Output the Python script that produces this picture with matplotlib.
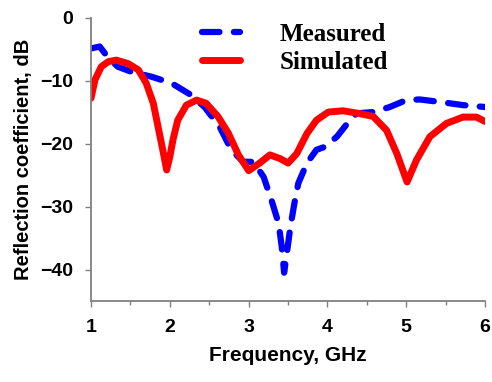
import numpy as np
import matplotlib.pyplot as plt
from matplotlib.ticker import MultipleLocator

# Measured curve (blue dashed)
f_meas = [1.0, 1.11, 1.22, 1.34, 1.51, 1.77, 2.02, 2.27, 2.44, 2.63, 2.78, 2.93, 3.06,
          3.19, 3.29, 3.38, 3.42, 3.45, 3.49, 3.53, 3.58, 3.63, 3.74, 3.86, 3.97, 4.12,
          4.24, 4.37, 4.58, 4.79, 5.0, 5.17, 5.43, 5.72, 6.0]
s_meas = [-4.9, -4.6, -6.4, -7.8, -8.6, -9.4, -10.4, -12.3, -14.2, -17.3, -21.0, -22.9, -22.9,
          -25.3, -29.0, -32.7, -36.4, -40.5, -36.9, -33.2, -29.5, -26.3, -23.1, -21.0, -20.5, -18.9,
          -17.0, -15.2, -15.0, -14.2, -13.1, -13.0, -13.4, -13.9, -14.2]

# Simulated curve (red solid)
f_sim = [1.0, 1.05, 1.13, 1.22, 1.32, 1.47, 1.6, 1.7, 1.79, 1.85, 1.91, 1.96, 2.0, 2.04,
         2.1, 2.21, 2.34, 2.46, 2.61, 2.74, 2.87, 3.0, 3.14, 3.27, 3.4, 3.5, 3.61, 3.74,
         3.86, 4.01, 4.2, 4.39, 4.58, 4.75, 4.88, 5.01, 5.13, 5.3, 5.51, 5.72, 5.89, 6.0]
s_sim = [-12.8, -9.9, -7.8, -7.0, -6.75, -7.3, -8.3, -10.4, -13.6, -17.3, -21.0, -24.2, -22.1, -19.4,
         -16.3, -13.9, -13.1, -13.6, -15.7, -18.3, -21.8, -24.3, -23.1, -21.8, -22.4, -23.1, -21.6, -18.4,
         -16.3, -15.0, -14.8, -15.2, -15.7, -17.9, -21.6, -26.1, -22.6, -18.9, -16.8, -15.8, -15.8, -16.5]

fig = plt.figure(figsize=(4.92, 3.82), dpi=100)
ax = fig.add_axes([0.185, 0.212, 0.801, 0.742])

ax.plot(f_meas, s_meas, color='#0000ff', lw=4.5, ls=(0, (2.8, 2.3)),
        dash_capstyle='round', dash_joinstyle='round', label='Measured')
ax.plot(f_sim, s_sim, color='#ff0000', lw=5, solid_capstyle='round',
        solid_joinstyle='round', label='Simulated')

ax.set_xlim(1, 6)
ax.set_ylim(-45, 0)
ax.xaxis.set_major_locator(MultipleLocator(1))
ax.xaxis.set_minor_locator(MultipleLocator(0.5))
ax.yaxis.set_major_locator(MultipleLocator(10))

for s in ['top', 'right']:
    ax.spines[s].set_visible(False)
for s in ['left', 'bottom']:
    ax.spines[s].set_color('#808080')
    ax.spines[s].set_linewidth(1.3)

ax.tick_params(which='major', length=4, width=1, color='#808080', labelsize=14, pad=9)
ax.tick_params(which='minor', length=3, width=1, color='#808080')
for lab in ax.get_xticklabels() + ax.get_yticklabels():
    lab.set_fontweight('bold')
    lab.set_family('Liberation Sans')

ax.set_xlabel('Frequency, GHz', fontsize=15, fontweight='bold', family='Liberation Sans', labelpad=7)
ax.set_ylabel('Reflection coefficient, dB', fontsize=14.5, fontweight='bold', family='Liberation Sans', labelpad=5)

ax.legend(loc='upper left', bbox_to_anchor=(0.225, 1.06), frameon=False,
          prop={'family': 'Liberation Serif', 'weight': 'bold', 'size': 18},
          handlelength=1.5, handletextpad=1.6, labelspacing=0.2)

fig.savefig('out.png', dpi=100)
